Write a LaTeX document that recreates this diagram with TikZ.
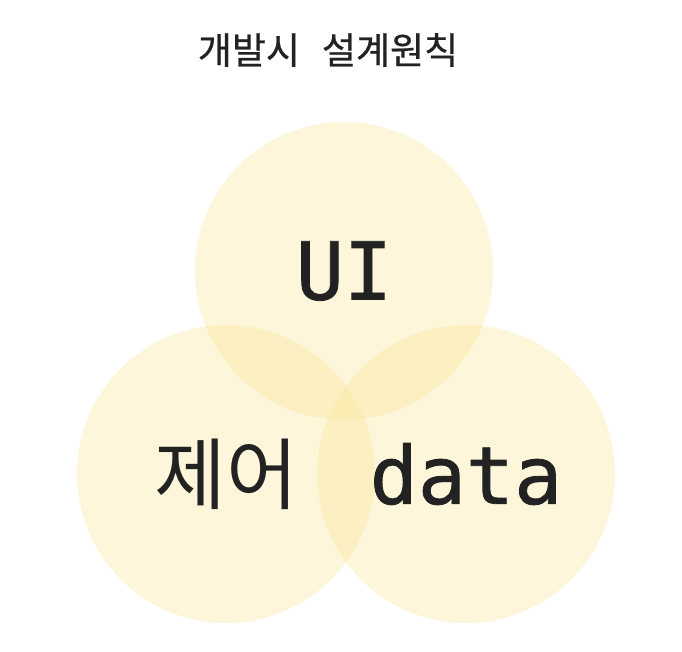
\documentclass[tikz,border=0pt]{standalone}
\usepackage{fontspec}
\setmainfont{Noto Sans CJK KR}
\newfontfamily\titlefont[FakeBold=0.6]{Noto Sans CJK KR}
\newfontfamily\monofont[FakeBold=1]{DejaVu Sans Mono}
\usetikzlibrary{positioning}
\definecolor{butter}{RGB}{249,229,150}
\definecolor{ink}{RGB}{34,34,34}
\tikzset{bub/.style={circle,fill=butter,fill opacity=0.35,text opacity=1,text=ink,inner sep=0pt,minimum size=298pt}}
\tikzset{big/.style={font=\fontsize{78}{78}\selectfont}}
\tikzset{mono/.style={font=\monofont\fontsize{80}{80}\selectfont}}

\begin{document}
\begin{tikzpicture}[x=1pt,y=-1pt]
  \useasboundingbox (0,0) rectangle (682,652);
  \node (title) at (328,50) [text=ink,font=\titlefont\fontsize{37}{37}\selectfont] {개발시\hspace{22pt}설계원칙};
  \node (ui) at (344,271) [bub,mono] {UI};
  \node (ctrl) at (226,474) [bub,big] {제어};
  \node (data) at (466,474) [bub,mono] {data};
\end{tikzpicture}
\end{document}
